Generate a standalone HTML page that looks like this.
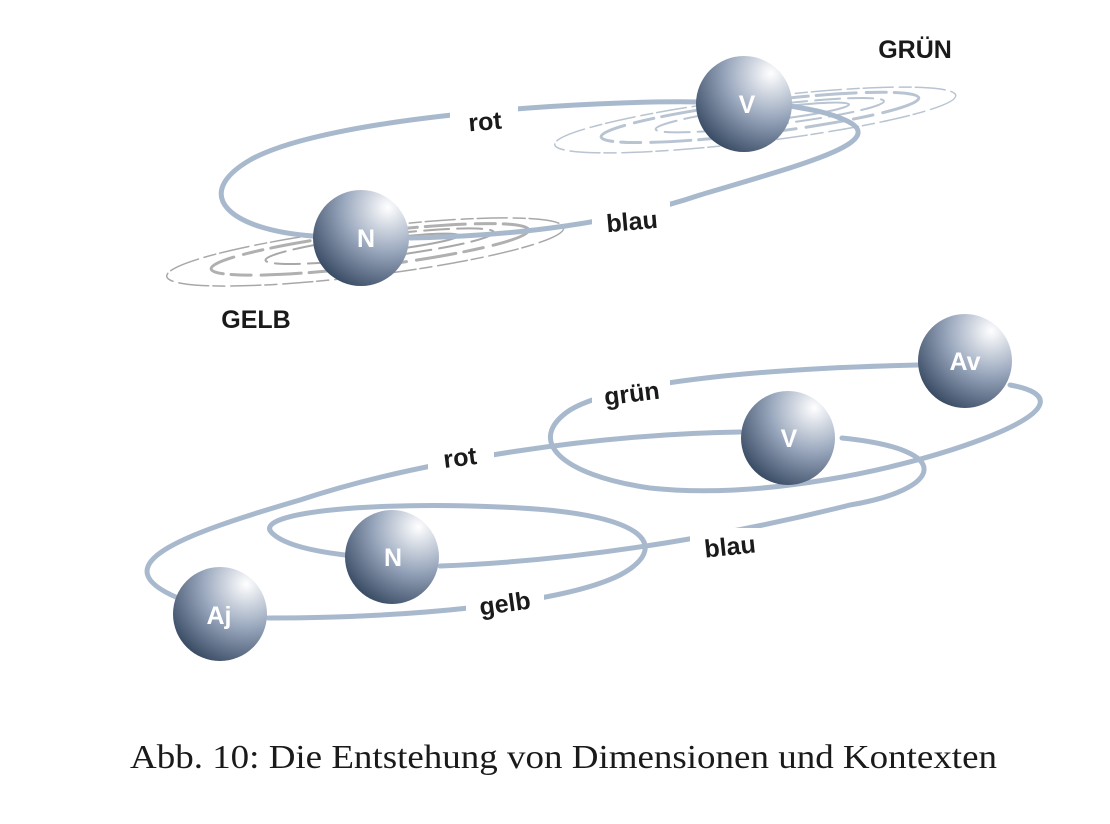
<!DOCTYPE html>
<html><head><meta charset="utf-8"><style>html,body{margin:0;padding:0;background:#fff}svg{display:block}</style></head>
<body>
<svg width="1110" height="824" viewBox="0 0 1110 824" xmlns="http://www.w3.org/2000/svg">
<defs>
<radialGradient id="sph" cx="0.78" cy="0.18" r="1.05" fx="0.78" fy="0.18">
<stop offset="0" stop-color="#ffffff"/>
<stop offset="0.45" stop-color="#98a6bc"/>
<stop offset="1" stop-color="#1f324c"/>
</radialGradient>
</defs>
<g fill="none" stroke-linecap="round">
<!-- GELB galaxy -->
<g transform="rotate(-7 365 250)" stroke="#a8a8a8">
<ellipse cx="365" cy="252" rx="200" ry="24" stroke-width="1.5" stroke-dasharray="30 6 12 4"/>
<ellipse cx="370" cy="250" rx="160" ry="17" stroke-width="3" stroke-dasharray="40 10 20 8" stroke="#b0b0b0"/>
<ellipse cx="380" cy="248" rx="115" ry="11" stroke-width="2" stroke-dasharray="25 8"/>
<ellipse cx="390" cy="247" rx="70" ry="6" stroke-width="2"/>
</g>
<!-- GRÜN galaxy -->
<g transform="rotate(-7 755 118)" stroke="#b8c4d2">
<ellipse cx="755" cy="120" rx="202" ry="22" stroke-width="1.5" stroke-dasharray="30 6 12 4"/>
<ellipse cx="760" cy="118" rx="160" ry="16" stroke-width="3" stroke-dasharray="40 10 20 8"/>
<ellipse cx="770" cy="117" rx="115" ry="10" stroke-width="2" stroke-dasharray="25 8"/>
<ellipse cx="780" cy="116" rx="70" ry="6" stroke-width="2"/>
</g>
<g stroke="#a9b9cd" stroke-width="5">
<!-- top ring -->
<path d="M 700 102 C 600 100, 330 115, 250 160 C 190 195, 230 230, 313 236"/>
<path d="M 410 238 C 520 236, 620 222, 700 195 C 800 165, 900 140, 840 118 C 820 110, 800 108, 790 106"/>
<!-- bottom rings -->
<path d="M 740 432 C 600 434, 420 460, 300 500 C 180 535, 100 565, 178 598"/>
<path d="M 842 438 C 960 450, 940 490, 850 505 C 750 530, 600 560, 440 566"/>
<path d="M 268 618 C 400 618, 560 605, 620 575 C 670 548, 650 515, 520 508 C 380 500, 250 512, 272 533 C 285 546, 320 552, 345 555"/>
<path d="M 918 365 C 780 368, 620 380, 570 410 C 525 440, 560 475, 650 488 C 760 500, 900 470, 980 440 C 1060 410, 1050 392, 1010 385"/>
</g>
</g>
<!-- spheres -->
<g fill="url(#sph)">
<circle cx="361" cy="238" r="48"/>
<circle cx="744" cy="104" r="48"/>
<circle cx="965" cy="361" r="47"/>
<circle cx="788" cy="438" r="47"/>
<circle cx="392" cy="557" r="47"/>
<circle cx="220" cy="614" r="47"/>
</g>
<g font-family="Liberation Sans, sans-serif" font-weight="bold" font-size="25" fill="#fff" text-anchor="middle">
<text x="366" y="247">N</text>
<text x="747" y="113">V</text>
<text x="965" y="370">Av</text>
<text x="789" y="447">V</text>
<text x="393" y="566">N</text>
<text x="219" y="624">Aj</text>
</g>
<!-- labels -->
<g font-family="Liberation Sans, sans-serif" font-weight="bold" font-size="25" fill="#1a1a1a" text-anchor="middle">
<g><rect x="450" y="104" width="68" height="34" fill="#fff"/><text x="485" y="130" transform="rotate(-5 485 122)">rot</text></g>
<g><rect x="592" y="202" width="78" height="34" fill="#fff"/><text x="632" y="230" transform="rotate(-5 632 222)">blau</text></g>
<text x="915" y="58">GRÜN</text>
<text x="256" y="328">GELB</text>
<g><rect x="592" y="376" width="78" height="36" fill="#fff"/><text x="632" y="402" transform="rotate(-7 632 395)">grün</text></g>
<g><rect x="428" y="440" width="66" height="36" fill="#fff"/><text x="460" y="466" transform="rotate(-7 460 458)">rot</text></g>
<g><rect x="690" y="528" width="80" height="36" fill="#fff"/><text x="730" y="555" transform="rotate(-6 730 547)">blau</text></g>
<g><rect x="466" y="586" width="78" height="38" fill="#fff"/><text x="505" y="612" transform="rotate(-8 505 604)">gelb</text></g>
</g>
<text x="130" y="768" font-family="Liberation Serif, serif" font-size="34" fill="#1a1a1a" textLength="867" lengthAdjust="spacingAndGlyphs">Abb. 10: Die Entstehung von Dimensionen und Kontexten</text>
</svg>
</body></html>
